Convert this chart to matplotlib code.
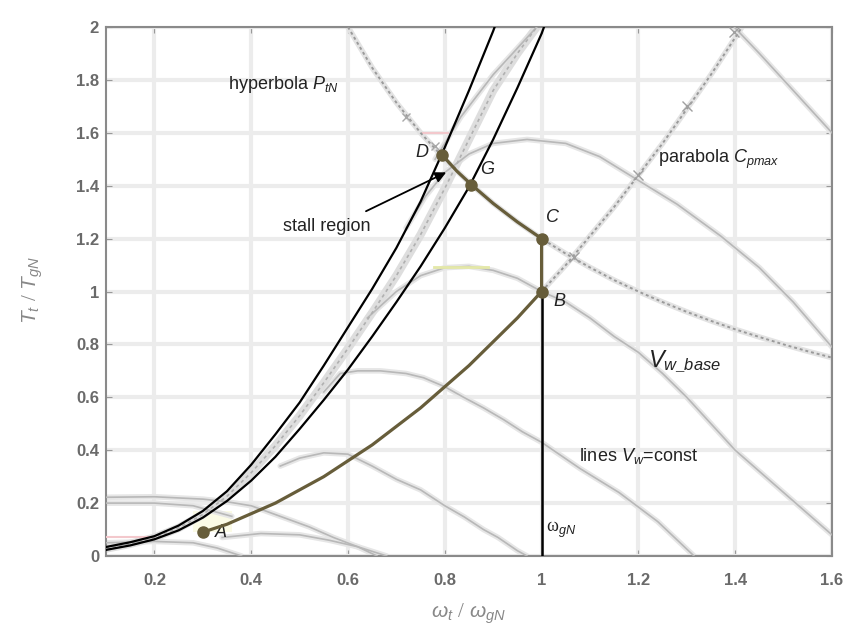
import numpy as np
import matplotlib
matplotlib.use("Agg")
import matplotlib.pyplot as plt

plt.rcParams['font.family'] = ['Liberation Sans', 'DejaVu Sans']
plt.rcParams['mathtext.fontset'] = 'custom'
plt.rcParams['mathtext.rm'] = 'Liberation Serif'
plt.rcParams['mathtext.it'] = 'Liberation Sans:italic'

# ---- data (omega_t/omega_gN, T_t/T_gN) ----
# lines Vw = const (light gray background curves)
vw1_left_x = [0.78, 0.833, 0.9, 0.95, 0.99]
vw1_left_y = [1.50, 1.66, 1.82, 1.92, 2.0]
vw1_right_x = [1.398, 1.45, 1.5, 1.55, 1.6]
vw1_right_y = [2.0, 1.90, 1.80, 1.70, 1.60]
vw2_x = [0.72, 0.76, 0.8, 0.85, 0.9, 0.97, 1.05, 1.12, 1.2, 1.28, 1.37, 1.45, 1.52, 1.6]
vw2_y = [1.24, 1.36, 1.45, 1.52, 1.56, 1.575, 1.56, 1.51, 1.42, 1.33, 1.21, 1.09, 0.96, 0.79]
vw_base_x = [0.64, 0.7, 0.75, 0.8, 0.85, 0.9, 0.95, 1.0, 1.05, 1.1, 1.15, 1.2, 1.25,
             1.3, 1.35, 1.4, 1.45, 1.5, 1.55, 1.6]
vw_base_y = [0.90, 1.00, 1.06, 1.09, 1.095, 1.08, 1.05, 1.0, 0.96, 0.9, 0.83, 0.77, 0.69,
             0.6, 0.5, 0.40, 0.32, 0.24, 0.16, 0.08]
vw4_x = [0.55, 0.584, 0.62, 0.667, 0.72, 0.756, 0.8, 0.839, 0.88, 0.922, 0.96, 1.0,
         1.08, 1.16, 1.24, 1.315]
vw4_y = [0.62, 0.69, 0.70, 0.70, 0.69, 0.674, 0.64, 0.60, 0.56, 0.515, 0.47, 0.43,
         0.33, 0.24, 0.13, 0.0]
vw5_x = [0.46, 0.5, 0.55, 0.6, 0.65, 0.7, 0.75, 0.8, 0.84, 0.88, 0.91, 0.95, 0.97]
vw5_y = [0.34, 0.37, 0.39, 0.385, 0.34, 0.29, 0.25, 0.19, 0.148, 0.10, 0.07, 0.02, 0.0]
vw6_x = [0.1, 0.2, 0.3, 0.35, 0.4, 0.46, 0.52, 0.57, 0.62, 0.66]
vw6_y = [0.222, 0.224, 0.215, 0.205, 0.19, 0.15, 0.11, 0.07, 0.035, 0.0]
vw7_x = [0.1, 0.2, 0.28, 0.32, 0.36]
vw7_y = [0.2, 0.2, 0.19, 0.17, 0.15]
vw8_x = [0.1, 0.2, 0.28, 0.33, 0.38]
vw8_y = [0.05, 0.055, 0.05, 0.03, 0.0]
vw9_x = [0.34, 0.42, 0.5, 0.56, 0.62, 0.68]
vw9_y = [0.07, 0.085, 0.08, 0.06, 0.035, 0.0]

# hyperbola P_tN and parabola C_pmax (gray dotted)
hyp_x = [0.6, 0.65, 0.7, 0.75, 0.8, 0.85, 0.9, 0.95, 1.0, 1.05, 1.1, 1.15, 1.2, 1.25,
         1.3, 1.35, 1.4, 1.45, 1.5, 1.55, 1.6]
hyp_y = [2.0, 1.846, 1.714, 1.6, 1.5, 1.412, 1.333, 1.263, 1.2, 1.143, 1.091, 1.043, 1.0, 0.96,
         0.923, 0.889, 0.857, 0.828, 0.8, 0.774, 0.75]
par_x = [1.0, 1.05, 1.1, 1.15, 1.2, 1.25, 1.3, 1.35, 1.4, 1.414]
par_y = [1.0, 1.10, 1.21, 1.32, 1.44, 1.56, 1.69, 1.82, 1.96, 2.0]

# stall region boundaries (black) and the gray stall curve between them
stall_l_x = [0.1, 0.15, 0.2, 0.25, 0.3, 0.35, 0.4, 0.45, 0.5, 0.55, 0.6, 0.65, 0.7, 0.75,
             0.8, 0.85, 0.9, 0.903]
stall_l_y = [0.034, 0.052, 0.075, 0.115, 0.17, 0.245, 0.345, 0.46, 0.58, 0.72, 0.865, 1.01,
             1.165, 1.34, 1.545, 1.76, 1.985, 2.0]
stall_r_x = [0.1, 0.15, 0.2, 0.25, 0.3, 0.35, 0.4, 0.45, 0.5, 0.55, 0.6, 0.65, 0.7, 0.75,
             0.8, 0.85, 0.9, 0.95, 1.0, 1.005]
stall_r_y = [0.023, 0.04, 0.063, 0.097, 0.145, 0.208, 0.285, 0.375, 0.48, 0.59, 0.705, 0.83,
             0.96, 1.095, 1.24, 1.395, 1.575, 1.77, 1.975, 2.0]
stall_g_x = [0.1, 0.15, 0.2, 0.25, 0.3, 0.35, 0.4, 0.45, 0.5, 0.55, 0.6, 0.65, 0.7, 0.75,
             0.8, 0.85, 0.9, 0.95, 0.99]
stall_g_y = [0.028, 0.046, 0.069, 0.106, 0.157, 0.226, 0.315, 0.417, 0.53, 0.655, 0.785, 0.92,
             1.06, 1.215, 1.39, 1.575, 1.76, 1.9, 2.0]

# control trajectory A-B-C-G-D
path_x = [0.3, 0.35, 0.4, 0.45, 0.5, 0.55, 0.6, 0.65, 0.7, 0.75, 0.8, 0.85, 0.9, 0.95, 1.0,
          1.0, 0.95, 0.9, 0.855, 0.825, 0.795]
path_y = [0.09, 0.12, 0.16, 0.20, 0.25, 0.30, 0.36, 0.42, 0.49, 0.56, 0.64, 0.72, 0.81, 0.90, 1.0,
          1.2, 1.263, 1.333, 1.404, 1.455, 1.515]
pts_name = ['A', 'B', 'C', 'G', 'D']
pts_x = [0.3, 1.0, 1.0, 0.855, 0.795]
pts_y = [0.09, 1.0, 1.2, 1.404, 1.515]

xticks = [0.2, 0.4, 0.6, 0.8, 1.0, 1.2, 1.4, 1.6]
xtick_labels = ['0.2', '0.4', '0.6', '0.8', '1', '1.2', '1.4', '1.6']
yticks = [0, 0.2, 0.4, 0.6, 0.8, 1.0, 1.2, 1.4, 1.6, 1.8, 2.0]
ytick_labels = ['0', '0.2', '0.4', '0.6', '0.8', '1', '1.2', '1.4', '1.6', '1.8', '2']

fig = plt.figure(figsize=(8.5, 6.36), dpi=100)
ax = fig.add_axes([0.1247, 0.1258, 0.8541, 0.8317])
ax.set_xlim(0.1, 1.6)
ax.set_ylim(0, 2)
ax.set_xticks(xticks)
ax.set_xticklabels(xtick_labels)
ax.set_yticks(yticks)
ax.set_yticklabels(ytick_labels)
ax.grid(True, color='#ececec', lw=3)
ax.set_axisbelow(True)
for s in ax.spines.values():
    s.set_color('#8a8a8a')
    s.set_linewidth(1.5)
ax.tick_params(direction='in', length=4, top=True, right=True, color='#999999',
               labelcolor='#6a6a6a', labelsize=12)
ax.tick_params(axis='x', pad=12)
ax.tick_params(axis='y', pad=5)
for lab in ax.get_xticklabels() + ax.get_yticklabels():
    lab.set_fontweight('bold')

# light gray Vw curves, drawn blurred
vw_curves = [(vw1_left_x, vw1_left_y), (vw1_right_x, vw1_right_y), (vw2_x, vw2_y),
             (vw_base_x, vw_base_y), (vw4_x, vw4_y), (vw5_x, vw5_y), (vw6_x, vw6_y),
             (vw7_x, vw7_y), (vw8_x, vw8_y), (vw9_x, vw9_y)]
for cx, cy in vw_curves:
    ax.plot(cx, cy, color='#e6e6e6', lw=4, solid_capstyle='round', zorder=2)
    ax.plot(cx, cy, color='#b8b8b8', lw=1.2, solid_joinstyle='round', zorder=3)

# faint coloured bits from the original
ax.plot([0.777, 0.889], [1.093, 1.093], color='#e4e8a8', lw=2, zorder=3)
ax.plot([0.756, 0.806], [1.6, 1.6], color='#f3c8cc', lw=1.5, zorder=3)
ax.plot([0.1, 0.2], [0.072, 0.072], color='#f3c8cc', lw=1.5, zorder=3)
ax.fill_between([0.28, 0.36], [0.09, 0.09], [0.17, 0.17], color='#fbfbe6', lw=0, zorder=1)

# gray stall band
ax.plot(stall_g_x, stall_g_y, color='#dedede', lw=6, zorder=2)
ax.plot(stall_g_x, stall_g_y, color='#b0b0b0', lw=1.2, ls=(0, (2, 2)), zorder=3)

# hyperbola and parabola, gray dotted with x marks
ax.plot(hyp_x, hyp_y, color='#e3e3e3', lw=4, zorder=2)
ax.plot(hyp_x, hyp_y, color='#9a9a9a', lw=1.4, ls=(0, (1.5, 1.5)), zorder=3)
ax.plot([0.72, 0.78], [1.66, 1.55], ls='none', marker='x', ms=6, mec='#a8a8a8', zorder=3)
ax.plot(par_x, par_y, color='#e3e3e3', lw=4, zorder=2)
ax.plot(par_x, par_y, color='#9a9a9a', lw=1.4, ls=(0, (1.5, 1.5)), zorder=3)
ax.plot([1.067, 1.2, 1.3, 1.398], [1.13, 1.44, 1.70, 1.98], ls='none', marker='x', ms=7,
        mec='#a0a0a0', zorder=3)

# stall region boundaries
ax.plot(stall_l_x, stall_l_y, color='black', lw=1.6, solid_joinstyle='round', zorder=5)
ax.plot(stall_r_x, stall_r_y, color='black', lw=1.6, solid_joinstyle='round', zorder=5)

# omega_gN line
ax.plot([1.0, 1.0], [0, 1.0], color='black', lw=1.8, zorder=5)

# trajectory
brown = '#675d3a'
ax.plot(path_x, path_y, color=brown, lw=2.3, solid_joinstyle='round', zorder=6)
ax.plot(pts_x, pts_y, ls='none', marker='o', ms=8, color=brown, zorder=7)

# labels
txt = dict(fontsize=13, color='#222222', va='center', ha='left')
lab_off = {'A': (0.026, -0.003), 'B': (0.025, -0.038), 'C': (0.009, 0.08),
           'G': (0.019, 0.057), 'D': (-0.055, 0.011)}
for n, px, py in zip(pts_name, pts_x, pts_y):
    dx, dy = lab_off[n]
    ax.text(px + dx, py + dy, n, fontstyle='italic', **txt)

ax.text(0.353, 1.784, r'hyperbola $P_{tN}$', **txt)
ax.text(1.241, 1.5, r'parabola $C_{pmax}$', **txt)
ax.text(0.466, 1.246, 'stall region', **txt)
ax.text(1.22, 0.735, r'$V_{w\_base}$', fontsize=17, color='#222222', va='center', ha='left')
ax.text(1.077, 0.379, r'lines $V_w$=const', **txt)
ax.text(1.009, 0.098, r'$\mathrm{\omega}_{gN}$', **txt)

ax.annotate('', xy=(0.808, 1.455), xytext=(0.632, 1.299),
            arrowprops=dict(arrowstyle='-|>', color='black', lw=1.3, mutation_scale=16),
            zorder=8)

fig.text(33 / 850, 1 - 290 / 636, r'$T_t\ /\ T_{gN}$', rotation=90, fontsize=15,
         color='#888888', ha='center', va='center')
fig.text(469 / 850, 1 - 614 / 636, r'$\omega_t\ /\ \omega_{gN}$', fontsize=15,
         color='#888888', ha='center', va='center')

fig.savefig('out.png', dpi=100)
